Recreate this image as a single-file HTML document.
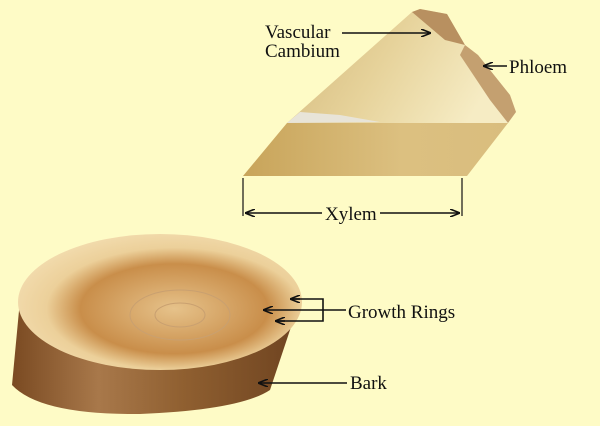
<!DOCTYPE html>
<html><head><style>
html,body{margin:0;padding:0;background:#FEFBC6;}
svg{display:block}
text{font-family:"Liberation Serif",serif;font-size:19px;fill:#111}
</style></head><body>
<svg width="600" height="426" viewBox="0 0 600 426" xmlns="http://www.w3.org/2000/svg">
<defs>
<marker id="a" markerWidth="10" markerHeight="8" refX="9" refY="4" orient="auto" markerUnits="userSpaceOnUse">
<path d="M0,0 L10,4 L0,8" fill="none" stroke="#111" stroke-width="1.6"/></marker>
<linearGradient id="top" x1="0" y1="0" x2="1" y2="0.3">
<stop offset="0" stop-color="#d2b77a"/><stop offset="0.5" stop-color="#e6d29a"/><stop offset="1" stop-color="#f6ecc4"/></linearGradient>
<linearGradient id="front" x1="0" y1="0" x2="1" y2="0">
<stop offset="0" stop-color="#c8a45a"/><stop offset="0.6" stop-color="#dcc080"/><stop offset="1" stop-color="#d9bd7e"/></linearGradient>
<radialGradient id="log" cx="0.55" cy="0.55" r="0.6">
<stop offset="0" stop-color="#e6c28a"/><stop offset="0.55" stop-color="#c98e4a"/><stop offset="0.75" stop-color="#ecd09a"/><stop offset="1" stop-color="#f3ddb0"/></radialGradient>
<linearGradient id="side" x1="0" y1="0" x2="1" y2="0">
<stop offset="0" stop-color="#7a4a22"/><stop offset="0.3" stop-color="#a8784a"/><stop offset="0.6" stop-color="#8f5f30"/><stop offset="1" stop-color="#6e4320"/></linearGradient>
</defs>
<!-- wedge -->
<path d="M412,12 L420,9 L447,14 L465,45 L478,55 L510,95 L516,112 L508,123 L287,123 Z" fill="url(#top)"/>
<path d="M412,12 L420,9 L447,14 L465,45 L445,40 Z" fill="#b89060"/>
<path d="M465,45 L478,55 L510,95 L516,112 L508,123 L490,100 L460,55 Z" fill="#c4a070"/>
<path d="M287,123 L300,112 L340,115 L380,122 Z" fill="#e8e4d8"/>
<path d="M287,123 L508,123 L467,176 L243,176 Z" fill="url(#front)"/>
<!-- log -->
<path d="M20,300 L12,385 Q40,415 140,414 Q240,410 270,390 L300,300 Z" fill="url(#side)"/>
<ellipse cx="160" cy="302" rx="142" ry="68" fill="url(#log)"/>
<ellipse cx="180" cy="315" rx="25" ry="12" fill="none" stroke="#c9a070" stroke-width="1"/>
<ellipse cx="180" cy="315" rx="50" ry="25" fill="none" stroke="#c9a070" stroke-width="1"/>
<!-- labels -->
<text x="265" y="38">Vascular</text>
<text x="265" y="57">Cambium</text>
<line x1="342" y1="33" x2="430" y2="33" stroke="#111" stroke-width="1.6" marker-end="url(#a)"/>
<text x="509" y="73">Phloem</text>
<line x1="507" y1="66" x2="484" y2="66" stroke="#111" stroke-width="1.6" marker-end="url(#a)"/>
<line x1="243" y1="178" x2="243" y2="216" stroke="#111" stroke-width="1.2"/>
<line x1="462" y1="178" x2="462" y2="216" stroke="#111" stroke-width="1.2"/>
<line x1="322" y1="213" x2="246" y2="213" stroke="#111" stroke-width="1.6" marker-end="url(#a)"/>
<line x1="380" y1="213" x2="459" y2="213" stroke="#111" stroke-width="1.6" marker-end="url(#a)"/>
<text x="325" y="220">Xylem</text>
<text x="348" y="318">Growth Rings</text>
<line x1="346" y1="310" x2="264" y2="310" stroke="#111" stroke-width="1.6" marker-end="url(#a)"/>
<polyline points="292,299 323,299 323,321 277,321" fill="none" stroke="#111" stroke-width="1.6"/>
<line x1="300" y1="299" x2="291" y2="299" stroke="#111" stroke-width="1.6" marker-end="url(#a)"/>
<line x1="285" y1="321" x2="276" y2="321" stroke="#111" stroke-width="1.6" marker-end="url(#a)"/>
<text x="350" y="389">Bark</text>
<line x1="347" y1="383" x2="259" y2="383" stroke="#111" stroke-width="1.6" marker-end="url(#a)"/>
</svg>
</body></html>
